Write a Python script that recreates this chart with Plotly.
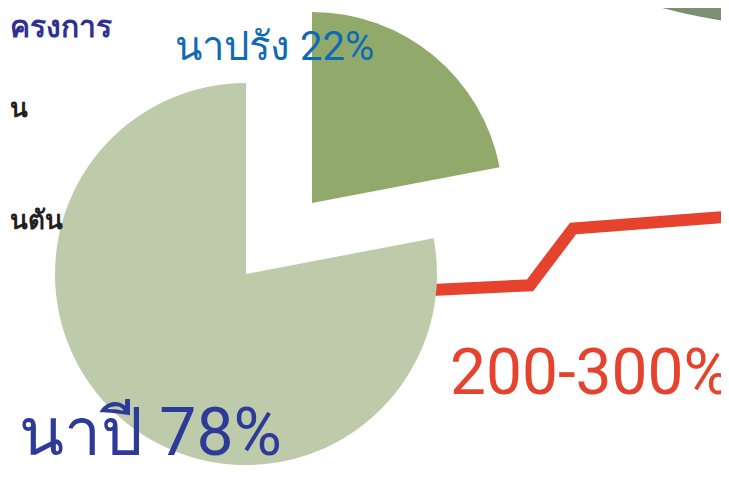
import plotly.graph_objects as go

# ---- data ----
season_labels = ["นาปรัง", "นาปี"]
season_shares = [22, 78]
season_colors = ["#91aa6c", "#bdcbab"]

trend_x = [0, 1, 1.44, 3.1]
trend_y = [100, 105, 165, 178]

label_off_season = "นาปรัง 22%"
label_main_season = "นาปี 78%"
label_growth = "200-300%"

W, H = 729, 491
OX, OY = 8, 8  # page body margin offset


def px(x):
    return (x - OX) / W


def py(y):
    return 1 - (y - OY) / H


def pie_domain(cx, cy, r):
    return dict(x=[px(cx - r), px(cx + r)], y=[py(cy + r), py(cy - r)])


R = 191
fig = go.Figure()

fig.add_trace(go.Pie(
    labels=season_labels, values=season_shares, sort=False,
    direction="clockwise", rotation=0,
    marker=dict(colors=["rgba(0,0,0,0)", season_colors[1]], line=dict(width=0)),
    textinfo="none", hoverinfo="skip", showlegend=False,
    domain=pie_domain(246, 274, R),
))
fig.add_trace(go.Pie(
    labels=season_labels, values=season_shares, sort=False,
    direction="clockwise", rotation=0,
    marker=dict(colors=[season_colors[0], "rgba(0,0,0,0)"], line=dict(width=0)),
    textinfo="none", hoverinfo="skip", showlegend=False,
    domain=pie_domain(312, 203, R),
))

fig.add_trace(go.Scatter(
    x=trend_x, y=trend_y, mode="lines",
    line=dict(color="#e6432f", width=12), hoverinfo="skip", showlegend=False,
))

x_scale, y_scale = 98, 0.947
fig.update_xaxes(range=[(OX - 432) / x_scale, (OX + W - 432) / x_scale],
                 visible=False, fixedrange=True)
fig.update_yaxes(range=[100 - (OY + H - 290) / y_scale, 100 + (290 - OY) / y_scale],
                 visible=False, fixedrange=True)

cxs, cys, rs = 815, -565, 593
fig.add_shape(type="circle", xref="paper", yref="paper",
              x0=px(cxs - rs), x1=px(cxs + rs), y0=py(cys + rs), y1=py(cys - rs),
              fillcolor="#7c8f72", line=dict(width=0), layer="below")

fam = "Roboto, Liberation Sans, sans-serif"

ann = [
    dict(text=label_off_season, x=px(274), y=py(46), font=dict(size=40, color="#0f6ab4")),
    dict(text=label_main_season, x=px(150), y=py(432), font=dict(size=66, color="#2e3a97")),
    dict(text=label_growth, x=px(590), y=py(372), font=dict(size=64, color="#e6432f")),
]
annotations = []
for a in ann:
    a["font"]["family"] = fam
    annotations.append(dict(xref="paper", yref="paper", showarrow=False,
                            xanchor="center", yanchor="middle", **a))

side = [
    ("ครงการ", 8, 27, 30, "#2e3192"),
    ("น", 8, 108, 26, "#231f20"),
    ("นตัน", 8, 220, 26, "#231f20"),
]
for t, x, y, s, c in side:
    annotations.append(dict(text=t, xref="paper", yref="paper", x=px(x), y=py(y),
                            xanchor="left", yanchor="middle", showarrow=False,
                            font=dict(size=s, color=c, family=fam, weight="bold")))

fig.update_layout(
    width=W, height=H, margin=dict(l=0, r=0, t=0, b=0),
    paper_bgcolor="white", plot_bgcolor="rgba(0,0,0,0)",
    annotations=annotations,
)

fig.write_html("out.html")
